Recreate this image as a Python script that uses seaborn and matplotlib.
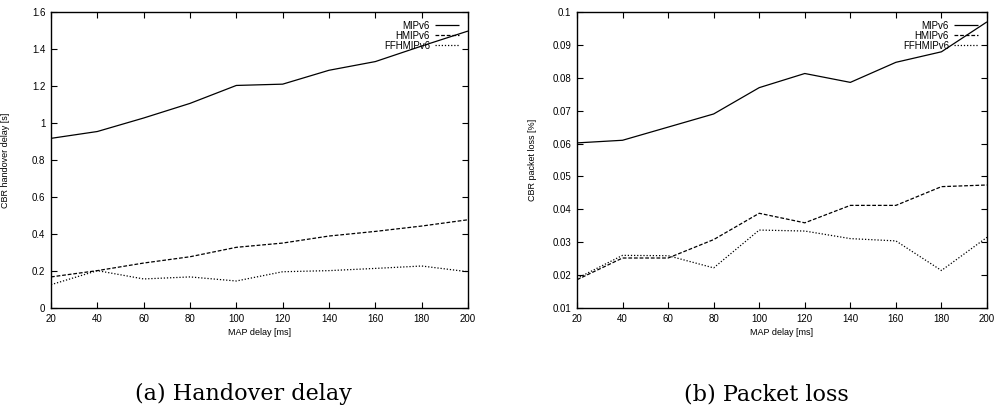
import matplotlib
matplotlib.use("Agg")
import matplotlib.pyplot as plt
import seaborn as sns
import pandas as pd

map_delay = [20, 40, 60, 80, 100, 120, 140, 160, 180, 200]
series_names = ["MIPv6", "HMIPv6", "FFHMIPv6"]

delay_mipv6 = [0.917, 0.954, 1.027, 1.106, 1.203, 1.210, 1.285, 1.332, 1.416, 1.497]
delay_hmipv6 = [0.168, 0.202, 0.243, 0.277, 0.328, 0.351, 0.389, 0.414, 0.443, 0.477]
delay_ffhmipv6 = [0.126, 0.202, 0.157, 0.168, 0.146, 0.196, 0.202, 0.214, 0.227, 0.196]

loss_mipv6 = [0.0602, 0.0610, 0.0650, 0.0690, 0.0770, 0.0813, 0.0786, 0.0847, 0.0879, 0.0970]
loss_hmipv6 = [0.0186, 0.0252, 0.0252, 0.0308, 0.0388, 0.0359, 0.0412, 0.0412, 0.0469, 0.0474]
loss_ffhmipv6 = [0.0190, 0.0260, 0.0259, 0.0222, 0.0337, 0.0334, 0.0311, 0.0304, 0.0214, 0.0315]

left_yticks = [0, 0.2, 0.4, 0.6, 0.8, 1.0, 1.2, 1.4, 1.6]
left_yticklabels = ["0", "0.2", "0.4", "0.6", "0.8", "1", "1.2", "1.4", "1.6"]
right_yticks = [0.01, 0.02, 0.03, 0.04, 0.05, 0.06, 0.07, 0.08, 0.09, 0.1]
right_yticklabels = ["0.01", "0.02", "0.03", "0.04", "0.05", "0.06", "0.07", "0.08", "0.09", "0.1"]

sns.set_theme(style="white")
plt.rcParams["font.family"] = ["Liberation Sans", "DejaVu Sans"]
plt.rcParams["text.color"] = "black"
plt.rcParams["axes.labelcolor"] = "black"

fig = plt.figure(figsize=(9.94, 4.12), dpi=100)
W, H = 994, 412
ax1 = fig.add_axes([51 / W, (H - 308) / H, 417 / W, 296 / H])
ax2 = fig.add_axes([577 / W, (H - 308) / H, 410 / W, 296 / H])

styles = {"MIPv6": (0, ()), "HMIPv6": (0, (3, 1.5)), "FFHMIPv6": (0, (1, 1.5))}


def draw(ax, vals, ylim, yticks, yticklabels, ylabel):
    for name, v in zip(series_names, vals):
        df = pd.DataFrame({"x": map_delay, "y": v})
        sns.lineplot(data=df, x="x", y="y", ax=ax, color="black", linewidth=0.9,
                     linestyle=styles[name], label=name)
    ax.set_xlim(20, 200)
    ax.set_ylim(*ylim)
    ax.set_xticks(map_delay)
    ax.set_xticklabels([str(v) for v in map_delay])
    ax.set_yticks(yticks)
    ax.set_yticklabels(yticklabels)
    ax.tick_params(direction="in", length=4, width=0.8, labelsize=7, top=True, right=True,
                   bottom=True, left=True, pad=4, colors="black")
    for s in ax.spines.values():
        s.set_color("black")
        s.set_linewidth(1.0)
    ax.set_xlabel("MAP delay [ms]", fontsize=6.5)
    ax.set_ylabel(ylabel, fontsize=6.5)
    ax.xaxis.set_label_coords(0.5, -0.068)
    ax.yaxis.set_label_coords(-0.098, 0.5)
    ax.legend(loc="upper right", frameon=False, fontsize=7, markerfirst=False,
              handlelength=2.5, handletextpad=0.5, labelspacing=0.0,
              borderaxespad=0.5)


draw(ax1, [delay_mipv6, delay_hmipv6, delay_ffhmipv6], (0, 1.6), left_yticks,
     left_yticklabels, "CBR handover delay [s]")
draw(ax2, [loss_mipv6, loss_hmipv6, loss_ffhmipv6], (0.01, 0.1), right_yticks,
     right_yticklabels, "CBR packet loss [%]")

fig.text(243 / W, 1 - 394 / H, "(a) Handover delay", ha="center", va="center",
         fontsize=16, family=["DejaVu Serif"], color="black")
fig.text(766 / W, 1 - 394 / H, "(b) Packet loss", ha="center", va="center",
         fontsize=16, family=["DejaVu Serif"], color="black")

fig.savefig("out.png", dpi=100, facecolor="white")
